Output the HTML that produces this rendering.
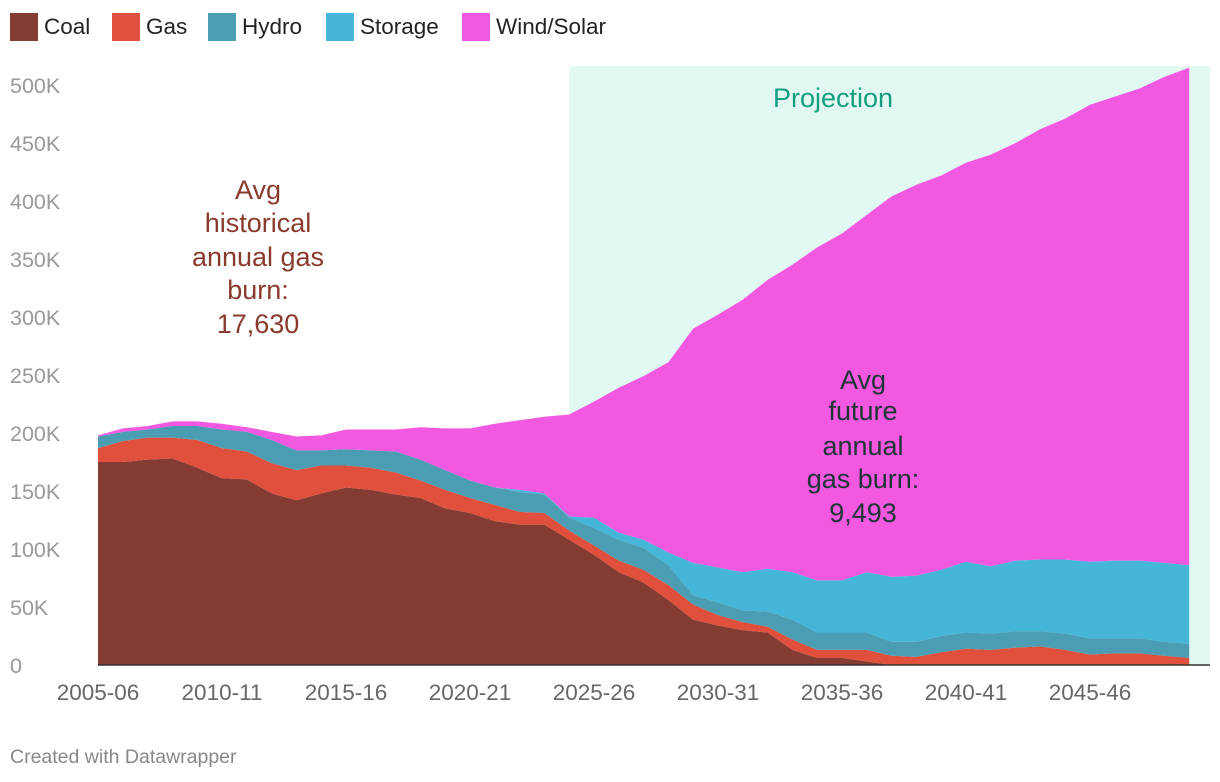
<!DOCTYPE html>
<html><head><meta charset="utf-8"><style>
body{margin:0;background:#fff;font-family:"Liberation Sans",sans-serif}
#wrap{position:relative;width:1220px;height:782px;overflow:hidden}
.leg{position:absolute;top:13px;display:flex;align-items:center;font-size:22.5px;color:#222}
.leg span{display:inline-block;width:28px;height:28px;margin-right:6px}
#foot{position:absolute;left:10px;top:746px;font-size:19.5px;color:#888}
</style></head><body>
<div id="wrap">
<div class="leg" style="left:10px"><span style="background:#843c32"></span>Coal</div>
<div class="leg" style="left:112px"><span style="background:#e0503d"></span>Gas</div>
<div class="leg" style="left:208px"><span style="background:#4a9db3"></span>Hydro</div>
<div class="leg" style="left:326px"><span style="background:#45b5d8"></span>Storage</div>
<div class="leg" style="left:462px"><span style="background:#f259e0"></span>Wind/Solar</div>
<svg id="chart" width="1220" height="782" style="position:absolute;left:0;top:0"></svg>
<div id="foot">Created with Datawrapper</div>
</div>
<script>
const coal=[175,175,177,178,170,161,160,148,142,148,153,151,147,144,135,131,124,121,121,108,95,80,71,56,39,34,30,28,13,6,6,3,0,0,0,0,0,0,0,0,0,0,0,0,0];
const gas=[12,18,19,18,24,26,24,26,26,24,19,19,19,15,16,13,14,11,10,8,8,10,11,13,13,9,7,5,9,7,7,10,8,7,11,14,13,15,16,13,9,10,10,8,6];
const hydro=[10,8,7,10,12,16,17,20,17,13,14,15,18,18,17,15,15,17,16,11,15,18,19,17,8,11,10,13,17,15,15,15,12,13,14,14,14,14,13,14,14,13,13,12,12];
const storage=[0,0,0,0,0,0,0,0,0,0,0,0,0,0,0,0,0,2,1,1,9,6,7,11,28,30,33,37,41,45,45,52,56,57,57,61,58,61,62,64,66,67,67,68,68];
const wind=[1,3,3,4,4,5,4,7,12,13,17,18,19,28,36,45,55,60,66,88,100,125,141,164,202,218,235,249,265,287,299,308,328,337,340,344,355,360,371,380,394,400,407,419,429];
const startYear=2005;
const yTicks=[0,50,100,150,200,250,300,350,400,450,500];
const xTickYears=[2005,2010,2015,2020,2025,2030,2035,2040,2045];
const projectionStart=2024;
const NS='http://www.w3.org/2000/svg';
const svg=document.getElementById('chart');
const X=y=>98+(y-startYear)*24.8;
const Y=v=>665-v*1.16;
function mk(t,a){const e=document.createElementNS(NS,t);for(const k in a)e.setAttribute(k,a[k]);svg.appendChild(e);return e;}
const bg=mk('rect',{x:X(projectionStart),y:66,width:1210-X(projectionStart),height:599,fill:'#e2f9f3'});


yTicks.forEach(t=>{const e=mk('text',{x:10,y:Y(t)+8,'font-size':21.5,fill:'#999'});e.textContent=t===0?'0':t+'K';

});
const series=[[coal,'#843c32','coal'],[gas,'#e0503d','gas'],[hydro,'#4a9db3','hydro'],[storage,'#45b5d8','storage'],[wind,'#f259e0','wind-solar']];
const base=coal.map(()=>0);
series.forEach(([arr,col,name])=>{
 const top=base.map((b,i)=>b+arr[i]);
 let d='';
 top.forEach((v,i)=>{d+=(i?'L':'M')+X(startYear+i)+','+Y(v);});
 for(let i=base.length-1;i>=0;i--)d+='L'+X(startYear+i)+','+Y(base[i]);
 const p=mk('path',{d:d+'Z',fill:col});
 
 
 top.forEach((v,i)=>base[i]=v);
});
const ax=mk('line',{x1:X(startYear),x2:1210,y1:665,y2:665,stroke:'#333','stroke-width':1.5});


xTickYears.forEach(y=>{const e=mk('text',{x:X(y),y:700,'font-size':22.5,fill:'#666','text-anchor':'middle'});
e.textContent=y+'-'+String((y+1)%100).padStart(2,'0');

});
function ann(lines,cx,ys,col,name){lines.forEach((l,i)=>{const e=mk('text',{x:cx,y:ys[i],'font-size':27,fill:col,'text-anchor':'middle'});e.textContent=l;

});}
ann(['Projection'],833,[107],'#139e80','projection-label');
ann(['Avg','historical','annual gas','burn:','17,630'],258,[199,232,266,299,333],'#8a3a2c','historical-annotation');
ann(['Avg','future','annual','gas burn:','9,493'],863,[389,420,455,488,522],'#1d3535','future-annotation');
</script>
</body></html>
